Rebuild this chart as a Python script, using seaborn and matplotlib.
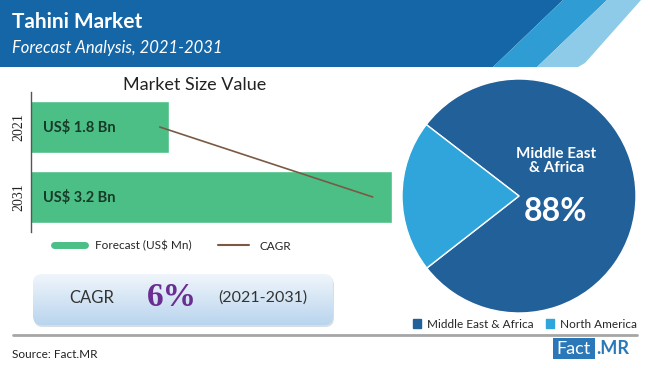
import numpy as np
import matplotlib
matplotlib.use('Agg')
import matplotlib.pyplot as plt
import seaborn as sns
from matplotlib.patches import Polygon, FancyBboxPatch, Patch, Rectangle
from matplotlib.lines import Line2D

years = ['2021', '2031']
market_value = [1.8, 3.2]
value_labels = ['US$ 1.8 Bn', 'US$ 3.2 Bn']
cagr_trend = [1.74, 3.08]
regions = ['Middle East & Africa', 'North America']
region_share = [79, 21]
cagr_text = '6%'

W, H = 650, 368
GREEN = '#4cbf86'
DARK_BLUE = '#22609a'
LIGHT_BLUE = '#30a5dc'
BROWN = '#7a5a45'

sns.set_theme(style='white')
plt.rcParams['font.family'] = ['Lato', 'DejaVu Sans']

fig = plt.figure(figsize=(W / 100, H / 100), dpi=100)


def px_axes(x0, y0, x1, y1, **kw):
    # axes from pixel box (top-left origin)
    return fig.add_axes([x0 / W, 1 - y1 / H, (x1 - x0) / W, (y1 - y0) / H], **kw)


# background / decorations
bg = px_axes(0, 0, W, H)
bg.set_xlim(0, W)
bg.set_ylim(H, 0)
bg.axis('off')
hdr_h = 67
bg.add_patch(Polygon([(0, 0), (563, 0), (493, hdr_h), (0, hdr_h)], color='#1566a6', lw=0))
bg.add_patch(Polygon([(563, 0), (607, 0), (537, hdr_h), (493, hdr_h)], color='#2f9dd3', lw=0))
bg.add_patch(Polygon([(607, 0), (641, 0), (585, hdr_h - 4), (578, hdr_h), (537, hdr_h)],
                     color='#8dcbe8', lw=0))
bg.text(12, 28, 'Tahini Market', color='white', fontsize=15, fontweight='bold', va='baseline')
bg.text(12, 53, 'Forecast Analysis, 2021-2031', color='white', fontsize=12,
        fontstyle='italic', va='baseline')
bg.text(195, 85, 'Market Size Value', color='#222222', fontsize=13, ha='center', va='center')

# CAGR box with gradient
box = FancyBboxPatch((33, 274), 300, 51, boxstyle='round,pad=0,rounding_size=9',
                     facecolor='none', edgecolor='none')
bg.add_patch(FancyBboxPatch((34, 276), 300, 51, boxstyle='round,pad=0,rounding_size=9',
                            facecolor='#d5dde6', edgecolor='none'))
bg.add_patch(box)
grad = np.linspace(0, 1, 100).reshape(-1, 1)
im = bg.imshow(grad, cmap=matplotlib.colors.LinearSegmentedColormap.from_list(
    'g', ['#f0f5fb', '#b9d5ee']), extent=(33, 333, 325, 274), aspect='auto', zorder=1)
im.set_clip_path(box)
bg.text(92, 298, 'CAGR', color='#333333', fontsize=12, ha='center', va='center', zorder=3)
bg.text(172, 298, cagr_text, color='#6a2d91', fontsize=24, fontweight='bold',
        family=['Liberation Serif', 'DejaVu Serif'], ha='center', va='center', zorder=3)
bg.text(263, 298, '(2021-2031)', color='#333333', fontsize=11.5, ha='center', va='center', zorder=3)

bg.plot([13, 637], [335, 335], color='#a6a6a6', lw=2)
bg.text(12, 354, 'Source: Fact.MR', color='#222222', fontsize=8.5, va='center')
bg.add_patch(Rectangle((553, 338), 42, 21, color='#2a78b8', lw=0))
bg.text(574, 349, 'Fact', color='white', fontsize=13, ha='center', va='center')
bg.text(596, 349, '.MR', color='#2a78b8', fontsize=13, fontweight='bold', va='center')

# bar chart
ax = px_axes(31, 92, 395, 232)
sns.barplot(x=market_value, y=years, orient='h', color=GREEN, saturation=1,
            width=0.73, ax=ax)
ax.set_xlim(0.93, 3.22)
ax.set_ylim(1.5, -0.5)
ax.plot(cagr_trend, [0, 1], color=BROWN, lw=1.2)
for i, lab in enumerate(value_labels):
    ax.text(0.93 + 0.075, i, lab, fontsize=10.5, fontweight='bold', color='#173a28', va='center')
ax.set_xticks([])
ax.set_xlabel('')
ax.set_ylabel('')
for s in ['top', 'right', 'bottom']:
    ax.spines[s].set_visible(False)
ax.spines['left'].set_color('#555555')
ax.spines['left'].set_linewidth(1)
ax.tick_params(axis='y', length=0, pad=4)
for t in ax.get_yticklabels():
    t.set_rotation(90)
    t.set_va('center')
    t.set_family(['Liberation Serif', 'DejaVu Serif'])
    t.set_fontsize(10)
    t.set_color('#222222')

fig.legend(handles=[Line2D([], [], color=GREEN, lw=5), Line2D([], [], color=BROWN, lw=1.5)],
           labels=['Forecast (US$ Mn)', 'CAGR'], loc='center left',
           bbox_to_anchor=(48 / W, 1 - 246 / H), ncol=2, frameon=False, fontsize=8.5,
           handlelength=2.6, columnspacing=2.2, handletextpad=0.9, borderpad=0)

# pie chart
pax = px_axes(402, 79, 636, 313)
pax.pie(region_share, colors=[DARK_BLUE, LIGHT_BLUE], startangle=218, counterclock=True,
        radius=1, wedgeprops=dict(edgecolor='white', linewidth=1))
pax.set_xlim(-1, 1)
pax.set_ylim(-1, 1)
pax.set_aspect('equal')
pax.text(0.32, 0.30, 'Middle East\n& Africa', color='white', fontsize=11, fontweight='bold',
         ha='center', va='center', linespacing=1.0)
pax.text(0.31, -0.13, '88%', color='white', fontsize=23, fontweight='bold',
         ha='center', va='center')

fig.legend(handles=[Patch(color=DARK_BLUE), Patch(color=LIGHT_BLUE)], labels=regions,
           loc='center left', bbox_to_anchor=(407 / W, 1 - 324 / H), ncol=2, frameon=False,
           fontsize=8.5, handlelength=0.7, handleheight=0.7, handletextpad=0.5,
           columnspacing=1.0, borderpad=0)

fig.savefig('out.png', dpi=100)
